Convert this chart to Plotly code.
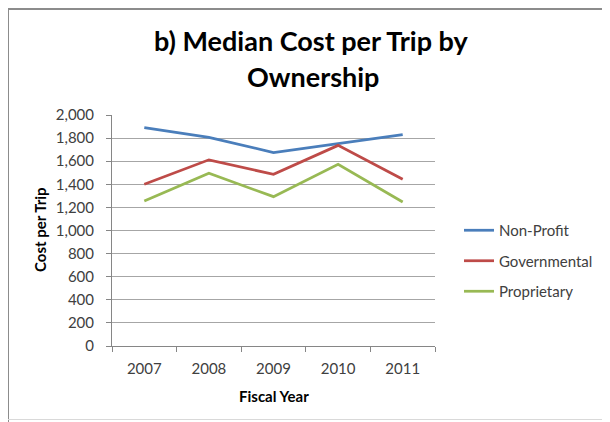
import plotly.graph_objects as go

years = ["2007", "2008", "2009", "2010", "2011"]
non_profit = [1890, 1807, 1675, 1750, 1830]
governmental = [1400, 1612, 1486, 1737, 1443]
proprietary = [1255, 1495, 1293, 1573, 1247]
series_names = ["Non-Profit", "Governmental", "Proprietary"]
series_colors = ["#4A7EBB", "#BE4B48", "#98B954"]
y_ticks = list(range(0, 2001, 200))

W, H = 610, 422
OX, OY = 8, 8  # page offset of the plot div
FONT = "Lato"

def px(x):
    return (x - OX) / W

def py(y):
    return 1 - (y - OY) / H

fig = go.Figure()
for name, vals, col in zip(series_names, [non_profit, governmental, proprietary], series_colors):
    fig.add_trace(go.Scatter(x=years, y=vals, mode="lines", name=name,
                             legendgroup=name,
                             line=dict(color=col, width=2.75)))

fig.update_layout(
    template="none",
    width=W, height=H,
    margin=dict(l=0, r=0, t=0, b=0, autoexpand=False),
    paper_bgcolor="white", plot_bgcolor="white",
    font=dict(family=FONT, size=15, color="#404040"),
    showlegend=True,
    legend=dict(x=px(459), y=py(214), xanchor="left", yanchor="top",
                font=dict(family=FONT, size=15, color="#404040"),
                tracegroupgap=8, bgcolor="rgba(0,0,0,0)", borderwidth=0),
    xaxis=dict(domain=[px(112), px(435)], type="category", range=[-0.5, 4.5],
               showline=True, linecolor="#868686", linewidth=1,
               ticks="outside", ticklen=5, tickcolor="#868686", tickson="boundaries",
               showgrid=False, zeroline=False, automargin=False,
               ticklabelstandoff=9,
               tickfont=dict(size=15, color="#404040")),
    yaxis=dict(domain=[py(346), py(115)], range=[0, 2000], tickvals=y_ticks,
               tickformat=",d", showline=True, linecolor="#868686", linewidth=1,
               ticks="outside", ticklen=5, tickcolor="#868686", automargin=False,
               ticklabelstandoff=9,
               showgrid=True, gridcolor="#A6A6A6", gridwidth=1, zeroline=False,
               tickfont=dict(size=15, color="#404040")),
)

def label(text, x, y, size, angle=0):
    fig.add_annotation(text=text, x=px(x), y=py(y), xref="paper", yref="paper",
                       xanchor="center", yanchor="middle", showarrow=False,
                       textangle=angle,
                       font=dict(family=FONT, size=size, color="#000000"))

label("<b>b) Median Cost per Trip by</b>", 311, 41, 27)
label("<b>Ownership</b>", 313, 77, 27)
label("<b>Fiscal Year</b>", 274, 396, 15)
label("<b>Cost per Trip</b>", 40, 230, 15, angle=-90)

# chart frame
fig.add_shape(type="line", xref="paper", yref="paper", x0=px(8), x1=px(8),
              y0=py(9), y1=py(440), line=dict(color="#8C8C8C", width=2))
fig.add_shape(type="line", xref="paper", yref="paper", x0=px(8), x1=1.1,
              y0=py(9), y1=py(9), line=dict(color="#8C8C8C", width=2))
fig.add_shape(type="line", xref="paper", yref="paper", x0=px(8), x1=1.1,
              y0=py(419.5), y1=py(419.5), line=dict(color="#D9D9D9", width=1))

fig.write_html("out.html")
